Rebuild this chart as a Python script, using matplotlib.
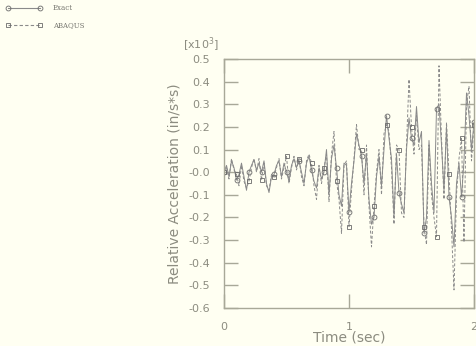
import matplotlib.pyplot as plt
import numpy as np

# time in seconds, sampled every 0.02 s
time = np.round(np.arange(0, 2.0001, 0.02), 2)

# relative acceleration [x10^3 in/s*s]
exact = [0.00, 0.03, -0.02, 0.05, 0.02, -0.035, -0.01, 0.04, -0.02, -0.08,
         0.00, 0.03, 0.055, 0.01, 0.04, 0.00, 0.05, -0.05, -0.09, -0.02,
         -0.01, 0.03, 0.05, -0.02, 0.04, 0.00, -0.04, 0.03, 0.06, 0.02,
         0.05, 0.00, -0.05, 0.04, 0.07, 0.01, -0.04, -0.07, 0.02, -0.03,
         0.00, 0.10, -0.10, 0.06, 0.12, 0.02, -0.10, -0.15, 0.04, 0.03,
         -0.175, -0.05, 0.05, 0.17, 0.12, 0.07, -0.05, 0.08, -0.12, -0.23,
         -0.20, -0.02, 0.07, -0.06, 0.10, 0.25, 0.15, 0.06, -0.20, 0.08,
         -0.09, -0.14, -0.18, 0.10, 0.24, 0.15, 0.12, 0.29, 0.13, 0.18,
         -0.27, -0.20, 0.14, -0.05, -0.18, 0.28, 0.30, 0.12, -0.08, 0.20,
         -0.11, -0.20, -0.33, -0.05, 0.04, -0.11, 0.05, 0.35, 0.25, 0.10,
         0.22]

abaqus = [0.00, 0.02, -0.03, 0.06, 0.01, -0.01, -0.06, 0.03, -0.04, -0.07,
          -0.04, 0.02, 0.06, 0.00, 0.06, -0.035, 0.04, -0.06, -0.08, -0.01,
          -0.02, 0.02, 0.06, -0.03, 0.02, 0.07, -0.05, 0.02, 0.07, 0.01,
          0.06, -0.02, -0.06, 0.05, 0.08, 0.04, -0.06, -0.12, 0.03, -0.05,
          0.02, 0.08, -0.13, 0.08, 0.18, -0.04, -0.12, -0.27, 0.03, 0.05,
          -0.24, -0.08, 0.06, 0.21, 0.10, 0.10, -0.10, 0.12, -0.15, -0.33,
          -0.15, 0.00, 0.10, -0.10, 0.17, 0.21, 0.18, 0.02, -0.23, 0.12,
          0.10, -0.18, -0.20, 0.12, 0.41, 0.20, 0.08, 0.25, 0.10, 0.12,
          -0.24, -0.32, 0.12, -0.10, -0.20, -0.285, 0.47, 0.15, -0.12, 0.22,
          -0.01, -0.25, -0.52, -0.10, 0.06, 0.15, -0.31, 0.30, 0.38, 0.05,
          0.21]

bg = '#fffff2'
line_col = '#8a8a8a'
mark_col = '#6a6a6a'
frame_col = '#a8a898'
text_col = '#8c8c80'

fig = plt.figure(figsize=(4.76, 3.46), dpi=100, facecolor=bg)
ax = fig.add_axes([224 / 476, 38 / 346, 250 / 476, 249 / 346], facecolor=bg)

ax.plot(time, exact, '-', color=line_col, lw=0.7, marker='o', ms=3.5,
        mfc='none', mec=mark_col, mew=0.6, markevery=5)
ax.plot(time, abaqus, '--', color=line_col, lw=0.7, dashes=(3, 2), marker='s',
        ms=3.5, mfc='none', mec=mark_col, mew=0.6, markevery=5)

ax.set_xlim(0, 2)
ax.set_ylim(-0.6, 0.5)
ax.set_xticks([0, 1, 2])
ax.set_xticklabels(['0', '1', '2'])
ax.set_yticks(np.round(np.arange(-0.6, 0.51, 0.1), 1))
ax.set_yticklabels(['%.1f' % v for v in np.arange(-0.6, 0.51, 0.1)])

ax.tick_params(direction='in', length=10, width=1, color=frame_col,
               labelcolor=text_col, labelsize=8, top=True, right=True, pad=10)
for s in ax.spines.values():
    s.set_color(frame_col)
    s.set_linewidth(1.0)

ax.set_xlabel('Time (sec)', color=text_col, fontsize=10, labelpad=-1)
ax.set_ylabel('Relative Acceleration (in/s*s)', color=text_col, fontsize=10,
              labelpad=5)
fig.text(183 / 476, 1 - 45 / 346, r'[x10$^3$]', color=text_col, fontsize=8,
         ha='left', va='center')

# legend in the top-left corner
lx = [8 / 476, 40 / 476]
fig.add_artist(plt.Line2D(lx, [1 - 8 / 346] * 2, color=line_col, lw=0.8,
                          marker='o', ms=3.5, mfc='none', mec=mark_col, mew=0.6))
fig.add_artist(plt.Line2D(lx, [1 - 25 / 346] * 2, color=line_col, lw=0.8,
                          ls='--', dashes=(3, 2), marker='s', ms=3.5,
                          mfc='none', mec=mark_col, mew=0.6))
fig.text(53 / 476, 1 - 8 / 346, 'Exact', color='#777770', fontsize=5,
         family='DejaVu Serif', va='center')
fig.text(53 / 476, 1 - 25 / 346, 'ABAQUS', color='#777770', fontsize=5,
         family='DejaVu Serif', va='center')

fig.savefig('out.png', dpi=100, facecolor=bg)
